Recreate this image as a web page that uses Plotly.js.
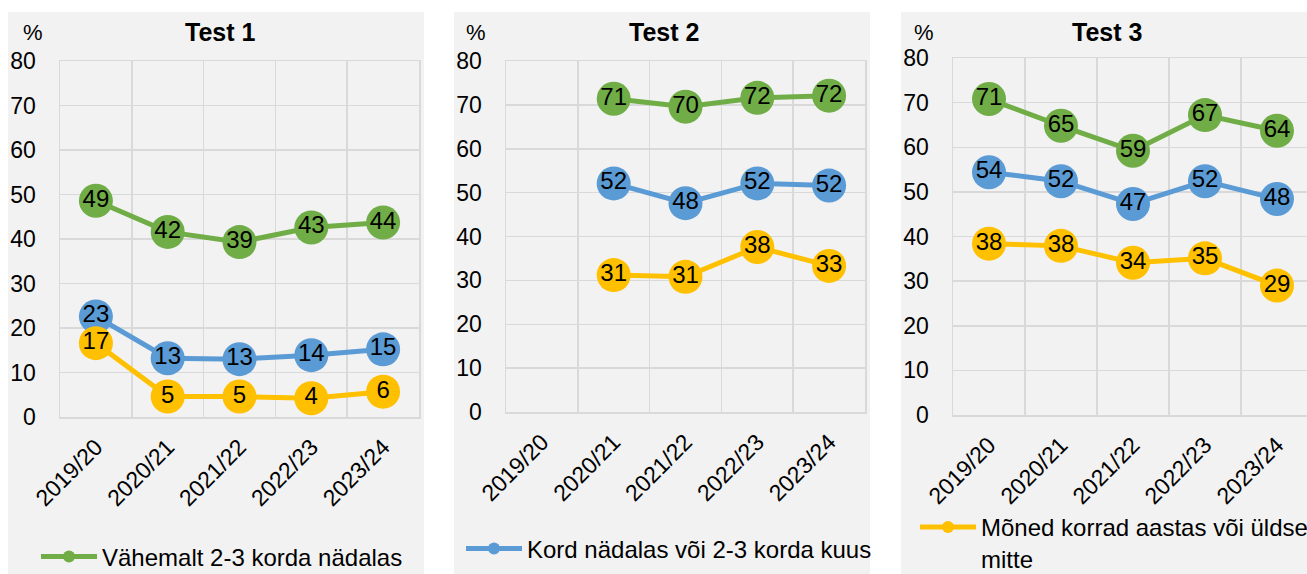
<!DOCTYPE html>
<html>
<head>
<meta charset="utf-8">
<script src="https://cdn.plot.ly/plotly-3.0.1.min.js"></script>
<style>html,body{margin:0;padding:0;background:#fff;overflow:hidden;}#chart{width:1307px;height:574px;}</style>
</head>
<body>
<div id="chart"></div>
<script>
const categories = ['2019/20', '2020/21', '2021/22', '2022/23', '2023/24'];
const yTicks = [0, 10, 20, 30, 40, 50, 60, 70, 80];
const panelTitles = ['Test 1', 'Test 2', 'Test 3'];
const seriesNames = ['Vähemalt 2-3 korda nädalas', 'Kord nädalas või 2-3 korda kuus', 'Mõned korrad aastas või üldse<br>mitte'];
const seriesColors = ['#70ad47', '#5b9bd5', '#ffc000'];

const test1Green  = [48.6, 41.6, 39.3, 42.6, 43.7];
const test1Blue   = [22.6, 13.2, 13.0, 13.9, 15.2];
const test1Yellow = [16.6, 4.6, 4.6, 4.2, 5.7];

const test2Green  = [null, 71.4, 69.6, 71.6, 72.1];
const test2Blue   = [null, 52.1, 47.6, 52.1, 51.6];
const test2Yellow = [null, 31.2, 30.8, 37.6, 33.3];

const test3Green  = [70.8, 64.8, 59.2, 67.2, 63.7];
const test3Blue   = [54.4, 52.4, 47.3, 52.4, 48.4];
const test3Yellow = [38.4, 37.9, 34.1, 35.1, 29.0];

const panels = [
  [test1Green, test1Blue, test1Yellow],
  [test2Green, test2Blue, test2Yellow],
  [test3Green, test3Blue, test3Yellow]
];

const FONT = 'Liberation Sans, Arial, sans-serif';
const GRID = '#d9d9d9';
const BG = '#f2f2f2';
const xIdx = categories.map((c, i) => i);

const traces = [];
panels.forEach((series, p) => {
  series.forEach((vals, s) => {
    traces.push({
      type: 'scatter',
      mode: 'lines+markers+text',
      x: xIdx,
      y: vals,
      name: seriesNames[s],
      xaxis: p === 0 ? 'x' : 'x' + (p + 1),
      yaxis: p === 0 ? 'y' : 'y' + (p + 1),
      line: {color: seriesColors[s], width: 5},
      marker: {color: seriesColors[s], size: 34},
      texttemplate: '%{y:.0f}',
      textposition: 'middle center',
      textfont: {family: FONT, size: 24, color: '#000'},
      cliponaxis: false,
      showlegend: s === p,
      legend: p === 0 ? 'legend' : 'legend' + (p + 1),
      hoverinfo: 'skip'
    });
  });
});

const W = 1307, H = 574;
const xDomains = [[60 / W, 419 / W], [506 / W, 865 / W], [953 / W, 1]];
const yDomains = [[(H - 417) / H, (H - 61) / H], [(H - 412) / H, (H - 61) / H], [(H - 415) / H, (H - 58) / H]];
const xRanges = [[-0.5, 4.5], [-0.5, 4.5], [-0.5, 4.417]];
const bgBoxes = [[8, 424], [454, 870], [901, 1307]];
const titleX = [220, 664, 1107];
const pctX = [33, 476, 924];
const legendPos = [[36, 557], [461, 549], [915, 543]];

const layout = {
  width: W, height: H,
  margin: {l: 0, r: 0, t: 0, b: 0, autoexpand: false},
  paper_bgcolor: '#fff',
  plot_bgcolor: BG,
  font: {family: FONT, size: 22, color: '#000'},
  shapes: [],
  annotations: []
};

for (let p = 0; p < 3; p++) {
  const xa = p === 0 ? 'xaxis' : 'xaxis' + (p + 1);
  const ya = p === 0 ? 'yaxis' : 'yaxis' + (p + 1);
  const yName = p === 0 ? 'y' : 'y' + (p + 1);
  const xName = p === 0 ? 'x' : 'x' + (p + 1);
  layout[xa] = {
    domain: xDomains[p], range: xRanges[p], anchor: yName, automargin: false,
    tickmode: 'array', tickvals: xIdx, ticktext: categories,
    tickangle: -45, tickfont: {family: FONT, size: 23, color: '#000'},
    showgrid: false, zeroline: false,
    showline: true, mirror: true, linecolor: GRID, linewidth: 1.5,
    ticks: 'outside', ticklen: 6, tickcolor: 'rgba(0,0,0,0)',
    minor: {tickmode: 'array', tickvals: [0.5, 1.5, 2.5, 3.5], showgrid: true, gridcolor: GRID, gridwidth: 1.5, ticks: ''},
    fixedrange: true
  };
  layout[ya] = {
    domain: yDomains[p], range: [0, 80], anchor: xName, automargin: false,
    tickmode: 'array', tickvals: yTicks,
    tickfont: {family: FONT, size: 23, color: '#000'},
    showgrid: true, gridcolor: GRID, gridwidth: 1.5, zeroline: false,
    showline: true, mirror: true, linecolor: GRID, linewidth: 1.5,
    ticks: 'outside', ticklen: 18, tickcolor: 'rgba(0,0,0,0)',
    fixedrange: true
  };
  layout.shapes.push({
    type: 'rect', xref: 'paper', yref: 'paper', layer: 'below',
    x0: bgBoxes[p][0] / W, x1: bgBoxes[p][1] / W, y0: 0, y1: (H - 12) / H,
    fillcolor: BG, line: {width: 0}
  });
  layout.annotations.push({
    xref: 'paper', yref: 'paper', x: titleX[p] / W, y: (H - 32) / H,
    xanchor: 'center', yanchor: 'middle', showarrow: false,
    text: '<b>' + panelTitles[p] + '</b>', font: {family: FONT, size: 25, color: '#000'}
  });
  layout.annotations.push({
    xref: 'paper', yref: 'paper', x: pctX[p] / W, y: (H - 33) / H,
    xanchor: 'center', yanchor: 'middle', showarrow: false,
    text: '%', font: {family: FONT, size: 22, color: '#000'}
  });
  const lg = p === 0 ? 'legend' : 'legend' + (p + 1);
  layout[lg] = {
    x: legendPos[p][0] / W, y: (H - legendPos[p][1]) / H,
    xanchor: 'left', yanchor: 'middle', valign: 'top',
    bgcolor: 'rgba(0,0,0,0)', borderwidth: 0,
    font: {family: FONT, size: 24, color: '#000'},
    itemsizing: 'constant', itemwidth: 56, itemclick: false, itemdoubleclick: false
  };
}

Plotly.newPlot('chart', traces, layout, {staticPlot: true, displayModeBar: false});
</script>
</body>
</html>
